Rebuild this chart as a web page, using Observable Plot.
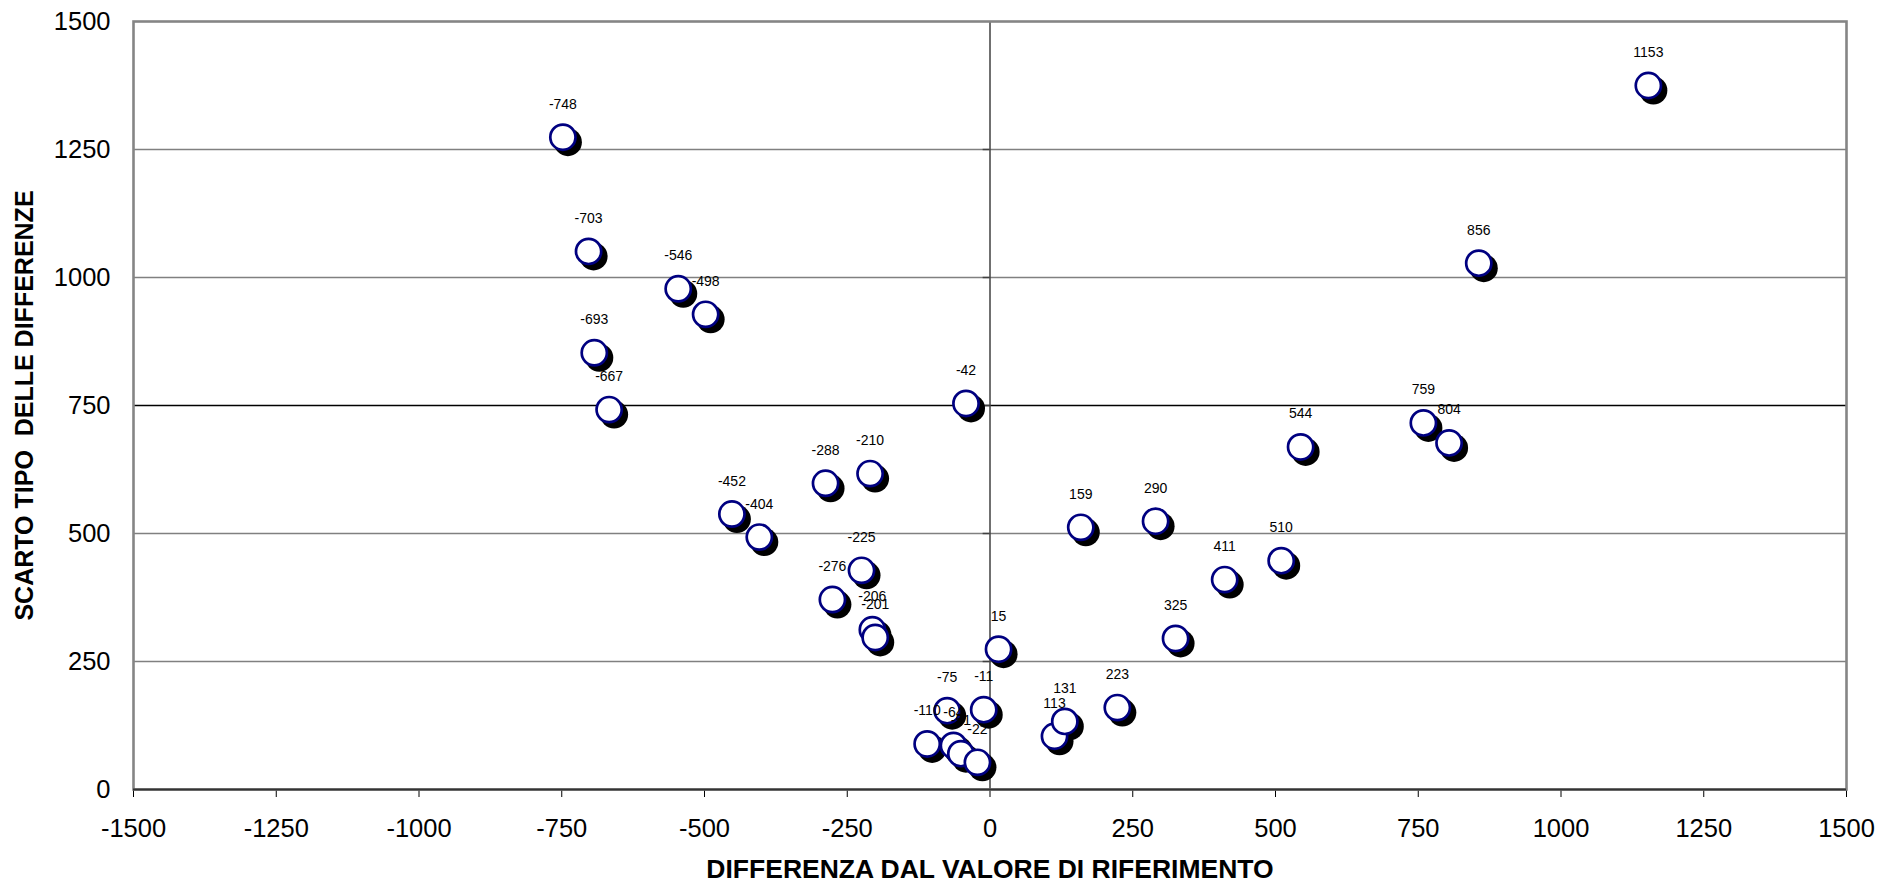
<!DOCTYPE html>
<html>
<head>
<meta charset="utf-8">
<script src="https://cdn.jsdelivr.net/npm/d3@7"></script>
<script src="https://cdn.jsdelivr.net/npm/@observablehq/plot@0.6"></script>
<style>
  html, body { margin: 0; padding: 0; background: #fff; }
  svg text { white-space: pre; }
</style>
</head>
<body>
<div id="chart"></div>
<script>
// Differenza dal valore di riferimento (x) and scarto tipo delle differenze (y)
const differenza = [-748, -703, -693, -667, -546, -498, -452, -404, -288, -276, -225, -210, -206, -201,
  -110, -75, -64, -51, -42, -22, -11, 15, 113, 131, 159, 223, 290, 325, 411, 510, 544, 759, 804, 856, 1153];
const scartoTipo = [1274, 1051, 853, 742, 978, 928, 538, 493, 598, 371, 428, 617, 312, 297,
  89, 154, 86, 70, 754, 53, 156, 274, 104, 133, 512, 160, 524, 295, 410, 447, 669, 716, 677, 1028, 1375];
const xTicks = [-1500, -1250, -1000, -750, -500, -250, 0, 250, 500, 750, 1000, 1250, 1500];
const yTicks = [0, 250, 500, 750, 1000, 1250, 1500];
const gridLines = [250, 500, 750, 1000, 1250];
const xTitle = "DIFFERENZA DAL VALORE DI RIFERIMENTO";
const yTitle = "SCARTO TIPO  DELLE DIFFERENZE";

const points = differenza.map((x, i) => ({x, y: scartoTipo[i], label: String(x)}));

const labelFont = "'Liberation Sans', Arial, sans-serif";

const chart = Plot.plot({
  width: 1897,
  height: 888,
  marginLeft: 133,
  marginRight: 51,
  marginTop: 21,
  marginBottom: 99,
  style: {
    fontFamily: "'Liberation Sans', Arial, sans-serif",
    fontSize: "25.5px",
    color: "#000",
    background: "#fff"
  },
  x: {domain: [-1500, 1500], ticks: xTicks, tickSize: 8, tickPadding: 21, label: null, tickFormat: d => String(d)},
  y: {domain: [0, 1500], ticks: yTicks, tickSize: 0, tickPadding: 23, label: null, tickFormat: d => String(d)},
  marks: [
    Plot.ruleY(gridLines, {stroke: d => d === 750 ? "#000" : "#808080", strokeWidth: 1.3}),
    Plot.ruleX([0], {stroke: "#404040", strokeWidth: 1.5}),
    Plot.ruleY(gridLines, {y: d => d, x1: -12, x2: 0, stroke: "#404040", strokeWidth: 1.5}),
    Plot.frame({stroke: "#858585", strokeWidth: 2.6}),
    Plot.ruleY([0], {stroke: "#333", strokeWidth: 2}),
    Plot.dot(points, {x: "x", y: "y", r: 14, fill: "#000", stroke: "none", dx: 5, dy: 5}),
    Plot.dot(points, {x: "x", y: "y", r: 12.6, fill: "#fff", stroke: "#000080", strokeWidth: 2.7}),
    Plot.text(points, {x: "x", y: "y", text: "label", dy: -33, fontSize: 14, fontFamily: labelFont, fill: "#000"}),
    Plot.text([xTitle], {frameAnchor: "bottom", dy: 88, fontSize: 26.5, fontWeight: "bold", fontFamily: labelFont, fill: "#000"}),
    Plot.text([yTitle], {frameAnchor: "left", textAnchor: "middle", dx: -109, rotate: -90, fontSize: 25, fontWeight: "bold", fontFamily: labelFont, fill: "#000"})
  ]
});
document.getElementById("chart").appendChild(chart);
</script>
</body>
</html>
